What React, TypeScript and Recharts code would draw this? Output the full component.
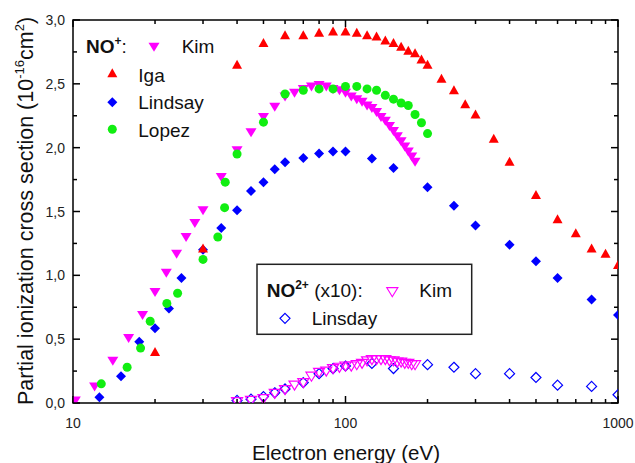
import { ScatterChart, Scatter, XAxis, YAxis, ReferenceArea } from "recharts";

const W = 635;
const H = 463;
const PLOT = { left: 73, right: 618, top: 20, bottom: 403 };
const FONT = '"Liberation Sans", Arial, sans-serif';

const RED = "#ff0000";
const MAGENTA = "#ff00ff";
const BLUE = "#0000ff";
const GREEN = "#11ee11";

// axis ticks
const xTicks = [10, 20, 30, 40, 50, 60, 70, 80, 90, 100, 200, 300, 400, 500, 600, 700, 800, 900, 1000];
const xLabelled = [10, 100, 1000];
const yTicks = [0, 0.25, 0.5, 0.75, 1, 1.25, 1.5, 1.75, 2, 2.25, 2.5, 2.75, 3];

// NO+ : Kim
const kimE = [10.2, 12, 14, 16, 18, 20, 22, 24, 26, 28, 30, 35, 40, 45, 50, 55, 60, 65, 70, 75, 80,
  85, 90, 95, 100, 105, 110, 115, 120, 125, 130, 135, 140, 145, 150, 155, 160, 165, 170, 175, 180];
const kimNO = [0.02, 0.13, 0.33, 0.51, 0.69, 0.87, 1.02, 1.17, 1.3, 1.41, 1.51, 1.77, 1.98, 2.12, 2.24, 2.32, 2.4, 2.43, 2.46, 2.48, 2.49,
  2.48, 2.46, 2.45, 2.43, 2.4, 2.38, 2.36, 2.33, 2.31, 2.28, 2.24, 2.21, 2.17, 2.13, 2.09, 2.05, 2.01, 1.97, 1.93, 1.89];

// NO+ : Iga
const igaE = [20, 30, 40, 50, 60, 70, 80, 90, 100, 110, 120, 130, 140, 150, 160, 170, 180, 190, 200,
  225, 250, 275, 300, 350, 400, 500, 600, 700, 800, 900, 1000];
const igaNO = [0.4, 1.21, 2.65, 2.82, 2.88, 2.88, 2.9, 2.91, 2.91, 2.9, 2.88, 2.87, 2.84, 2.82, 2.79, 2.76, 2.74, 2.69, 2.65,
  2.54, 2.45, 2.34, 2.26, 2.07, 1.89, 1.63, 1.44, 1.33, 1.21, 1.17, 1.08];

// NO+ : Lindsay
const lindsayE = [12.5, 15, 17.5, 20, 22.5, 25, 30, 35, 40, 45, 50, 55, 60, 70, 80, 90, 100, 125, 150, 200, 250, 300, 400, 500, 600, 800, 1000];
const lindsayNO = [0.045, 0.21, 0.48, 0.585, 0.74, 0.98, 1.2, 1.37, 1.51, 1.66, 1.73, 1.83, 1.885, 1.92, 1.955, 1.97, 1.97, 1.915, 1.84, 1.69, 1.545, 1.39, 1.24, 1.11, 0.98, 0.81, 0.69];

// NO+ : Lopez
const lopezE = [12.7, 15.8, 17.7, 19.2, 22.1, 24.2, 30, 34, 36, 36.2, 40, 50, 60, 70, 80, 90, 100, 110, 120, 130, 140, 150, 160, 170, 180, 190, 200];
const lopezNO = [0.15, 0.28, 0.43, 0.64, 0.78, 0.86, 1.125, 1.3, 1.53, 1.73, 1.95, 2.2, 2.42, 2.45, 2.46, 2.46, 2.48, 2.48, 2.46, 2.45, 2.41, 2.38, 2.35, 2.33, 2.26, 2.195, 2.11];

// NO2+ (x10) : Kim
const kim2E = [40, 45, 50, 55, 60, 65, 70, 75, 80, 85, 90, 95, 100, 105, 110, 115, 120, 125, 130, 135, 140, 145, 150, 155, 160, 165, 170, 175, 180];
const kimNO2 = [0.01, 0.02, 0.035, 0.075, 0.105, 0.14, 0.16, 0.21, 0.24, 0.25, 0.27, 0.28, 0.29, 0.29, 0.3, 0.31, 0.33, 0.34, 0.34, 0.34, 0.34, 0.33, 0.33, 0.32, 0.32, 0.31, 0.31, 0.3, 0.3];

// NO2+ (x10) : Linsday
const linsdayE = [40, 45, 50, 55, 60, 70, 80, 90, 100, 125, 150, 200, 250, 300, 400, 500, 600, 800, 1000];
const linsdayNO2 = [0.02, 0.03, 0.05, 0.08, 0.11, 0.16, 0.23, 0.27, 0.29, 0.31, 0.27, 0.3, 0.28, 0.23, 0.23, 0.2, 0.14, 0.13, 0.065];

const pts = (e: number[], v: number[]) => e.map((x, i) => ({ x, y: v[i] }));

type Kind = "up" | "down" | "diamond" | "circle";

function Marker({ kind, cx, cy, color, hollow }: { kind: Kind; cx: number; cy: number; color: string; hollow?: boolean }) {
  const fill = hollow ? "none" : color;
  const stroke = hollow ? color : "none";
  const sw = hollow ? 1.2 : 0;
  if (kind === "circle") return <circle cx={cx} cy={cy} r={4.5} fill={fill} stroke={stroke} strokeWidth={sw} />;
  let p = "";
  if (kind === "up") p = `${cx - 5},${cy + 4} ${cx + 5},${cy + 4} ${cx},${cy - 5}`;
  if (kind === "down") p = `${cx - 5.5},${cy - 4} ${cx + 5.5},${cy - 4} ${cx},${cy + 5}`;
  if (kind === "diamond") p = `${cx},${cy - 5} ${cx + 5},${cy} ${cx},${cy + 5} ${cx - 5},${cy}`;
  return <polygon points={p} fill={fill} stroke={stroke} strokeWidth={sw} />;
}

const shape = (kind: Kind, color: string, hollow?: boolean) => (p: any) =>
  <Marker kind={kind} cx={p.cx} cy={p.cy} color={color} hollow={hollow} />;

function XTick(props: any) {
  const x = props.x;
  const v = props.payload.value;
  const major = xLabelled.includes(v);
  const len = major ? 7 : 4;
  return (
    <g>
      <line x1={x} x2={x} y1={PLOT.bottom} y2={PLOT.bottom - len} stroke="#000" strokeWidth={1.5} />
      <line x1={x} x2={x} y1={PLOT.top} y2={PLOT.top + len} stroke="#000" strokeWidth={1.5} />
      {major && (
        <text x={x} y={428} textAnchor="middle" fontSize={14} fontFamily={FONT} fill="#222">
          {v}
        </text>
      )}
    </g>
  );
}

function YTick(props: any) {
  const y = props.y;
  const v = props.payload.value;
  const major = Math.abs(v * 2 - Math.round(v * 2)) < 1e-6;
  const len = major ? 7 : 4;
  return (
    <g>
      <line x1={PLOT.left} x2={PLOT.left + len} y1={y} y2={y} stroke="#000" strokeWidth={1.5} />
      <line x1={PLOT.right} x2={PLOT.right - len} y1={y} y2={y} stroke="#000" strokeWidth={1.5} />
      {major && (
        <text x={65} y={y + 5} textAnchor="end" fontSize={14} fontFamily={FONT} fill="#222">
          {v.toFixed(1).replace(".", ",")}
        </text>
      )}
    </g>
  );
}

export default function App() {
  return (
    <div style={{ position: "absolute", left: 0, top: 0, width: W, height: H, background: "#fff" }}>
      <ScatterChart width={W} height={H} margin={{ top: 20, right: 17, bottom: 0, left: 0 }}>
        <XAxis
          type="number"
          dataKey="x"
          scale="log"
          domain={[10, 1000]}
          ticks={xTicks}
          interval={0}
          tick={XTick}
          tickLine={false}
          axisLine={false}
          height={60}
          allowDataOverflow
        />
        <YAxis
          type="number"
          dataKey="y"
          domain={[0, 3]}
          ticks={yTicks}
          interval={0}
          tick={YTick}
          tickLine={false}
          axisLine={false}
          width={73}
          allowDataOverflow
        />
        <ReferenceArea x1={10} x2={1000} y1={0} y2={3} fill="none" stroke="#000" strokeWidth={1.5} />
        <Scatter data={pts(linsdayE, linsdayNO2)} shape={shape("diamond", BLUE, true)} isAnimationActive={false} />
        <Scatter data={pts(kim2E, kimNO2)} shape={shape("down", MAGENTA, true)} isAnimationActive={false} />
        <Scatter data={pts(kimE, kimNO)} shape={shape("down", MAGENTA)} isAnimationActive={false} />
        <Scatter data={pts(lindsayE, lindsayNO)} shape={shape("diamond", BLUE)} isAnimationActive={false} />
        <Scatter data={pts(lopezE, lopezNO)} shape={shape("circle", GREEN)} isAnimationActive={false} />
        <Scatter data={pts(igaE, igaNO)} shape={shape("up", RED)} isAnimationActive={false} />
      </ScatterChart>
      <svg width={W} height={H} style={{ position: "absolute", left: 0, top: 0, pointerEvents: "none" }} fontFamily={FONT} fill="#111">
        {/* NO+ legend */}
        <text x={86} y={53.3} fontSize={19}>
          <tspan fontWeight="bold">NO</tspan>
          <tspan fontWeight="bold" fontSize={12} dy={-8}>+</tspan>
          <tspan dy={8}>:</tspan>
        </text>
        <Marker kind="down" cx={154} cy={46.7} color={MAGENTA} />
        <text x={181.7} y={53.3} fontSize={19}>Kim</text>
        <Marker kind="up" cx={112.3} cy={73.3} color={RED} />
        <text x={138.3} y={81.7} fontSize={19}>Iga</text>
        <Marker kind="diamond" cx={112.3} cy={102.3} color={BLUE} />
        <text x={138.3} y={109.3} fontSize={19}>Lindsay</text>
        <Marker kind="circle" cx={112.3} cy={129.3} color={GREEN} />
        <text x={138.3} y={136.7} fontSize={19}>Lopez</text>

        {/* NO2+ legend */}
        <rect x={257} y={264.3} width={214.7} height={70} fill="#fff" stroke="#222" strokeWidth={1.5} />
        <text x={266.7} y={296.7} fontSize={19}>
          <tspan fontWeight="bold">NO</tspan>
          <tspan fontWeight="bold" fontSize={12} dy={-8}>2+</tspan>
          <tspan dy={8}> (x10):</tspan>
        </text>
        <Marker kind="down" cx={392.3} cy={291.7} color={MAGENTA} hollow />
        <text x={419.3} y={296.7} fontSize={19}>Kim</text>
        <Marker kind="diamond" cx={285} cy={318.3} color={BLUE} hollow />
        <text x={311.7} y={325} fontSize={19}>Linsday</text>

        {/* axis titles */}
        <text x={346} y={460} textAnchor="middle" fontSize={20.5}>Electron energy (eV)</text>
        <text transform="translate(33,211) rotate(-90)" textAnchor="middle" fontSize={21.5}>
          Partial ionization cross section (10
          <tspan fontSize={13} dy={-9}>-16</tspan>
          <tspan dy={9}>cm</tspan>
          <tspan fontSize={13} dy={-9}>2</tspan>
          <tspan dy={9}>)</tspan>
        </text>
      </svg>
    </div>
  );
}
